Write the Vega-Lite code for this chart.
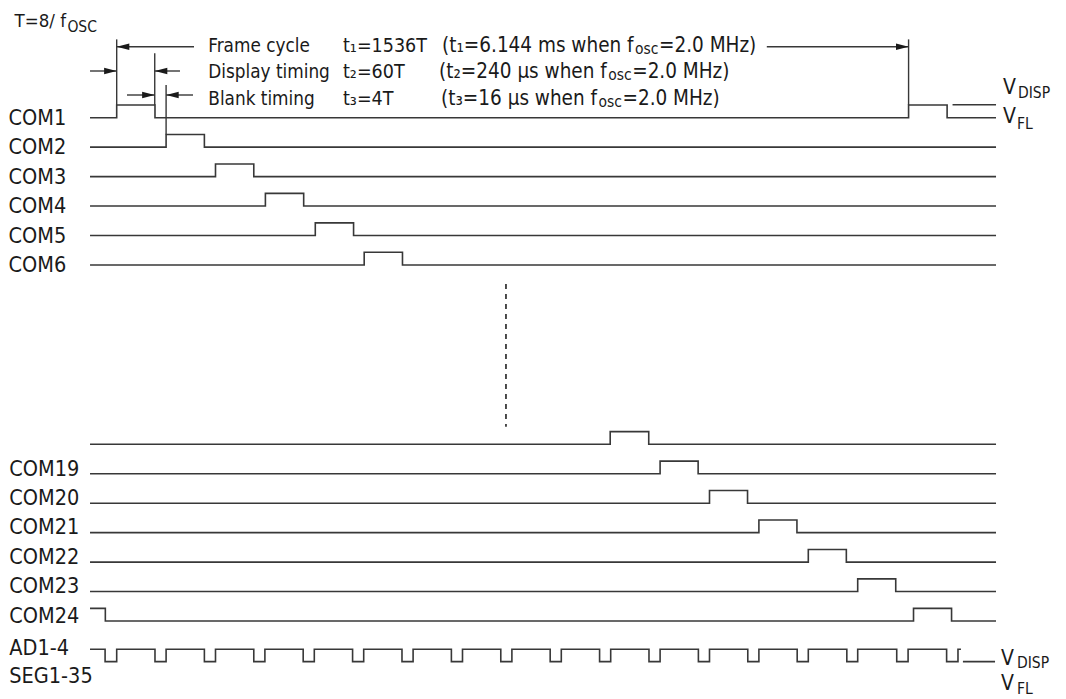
{
  "$schema": "https://vega.github.io/schema/vega-lite/v6.json",
  "width": 1066,
  "height": 699,
  "autosize": {"type": "fit", "contains": "padding"},
  "padding": 0,
  "background": "white",
  "config": {"view": {"stroke": null}, "text": {"font": "DejaVu Sans Condensed, Liberation Sans Narrow, Roboto, sans-serif", "color": "#1a1a1a", "align": "left", "baseline": "alphabetic"}},
  "datasets": {
    "waves": [
      {"s": "COM1", "t": -0.54, "v": 0}, {"s": "COM1", "t": 0, "v": -0.43}, {"s": "COM1", "t": 0.775, "v": 0}, {"s": "COM1", "t": 16.03, "v": -0.43}, {"s": "COM1", "t": 16.81, "v": 0}, {"s": "COM1", "t": 17.8, "v": 0},
      {"s": "COM2", "t": -0.54, "v": 1}, {"s": "COM2", "t": 1.0, "v": 0.57}, {"s": "COM2", "t": 1.775, "v": 1}, {"s": "COM2", "t": 17.8, "v": 1},
      {"s": "COM3", "t": -0.54, "v": 2}, {"s": "COM3", "t": 2.0, "v": 1.57}, {"s": "COM3", "t": 2.775, "v": 2}, {"s": "COM3", "t": 17.8, "v": 2},
      {"s": "COM4", "t": -0.54, "v": 3}, {"s": "COM4", "t": 3.01, "v": 2.57}, {"s": "COM4", "t": 3.785, "v": 3}, {"s": "COM4", "t": 17.8, "v": 3},
      {"s": "COM5", "t": -0.54, "v": 4}, {"s": "COM5", "t": 4.02, "v": 3.57}, {"s": "COM5", "t": 4.795, "v": 4}, {"s": "COM5", "t": 17.8, "v": 4},
      {"s": "COM6", "t": -0.54, "v": 5}, {"s": "COM6", "t": 5.01, "v": 4.57}, {"s": "COM6", "t": 5.785, "v": 5}, {"s": "COM6", "t": 17.8, "v": 5},
      {"s": "COM18", "t": -0.54, "v": 11.09}, {"s": "COM18", "t": 9.99, "v": 10.66}, {"s": "COM18", "t": 10.77, "v": 11.09}, {"s": "COM18", "t": 17.8, "v": 11.09},
      {"s": "COM19", "t": -0.54, "v": 12.09}, {"s": "COM19", "t": 11.0, "v": 11.66}, {"s": "COM19", "t": 11.77, "v": 12.09}, {"s": "COM19", "t": 17.8, "v": 12.09},
      {"s": "COM20", "t": -0.54, "v": 13.09}, {"s": "COM20", "t": 12.0, "v": 12.66}, {"s": "COM20", "t": 12.77, "v": 13.09}, {"s": "COM20", "t": 17.8, "v": 13.09},
      {"s": "COM21", "t": -0.54, "v": 14.09}, {"s": "COM21", "t": 13.0, "v": 13.66}, {"s": "COM21", "t": 13.77, "v": 14.09}, {"s": "COM21", "t": 17.8, "v": 14.09},
      {"s": "COM22", "t": -0.54, "v": 15.09}, {"s": "COM22", "t": 14.0, "v": 14.66}, {"s": "COM22", "t": 14.77, "v": 15.09}, {"s": "COM22", "t": 17.8, "v": 15.09},
      {"s": "COM23", "t": -0.54, "v": 16.09}, {"s": "COM23", "t": 15.0, "v": 15.66}, {"s": "COM23", "t": 15.77, "v": 16.09}, {"s": "COM23", "t": 17.8, "v": 16.09},
      {"s": "COM24", "t": -0.54, "v": 16.66}, {"s": "COM24", "t": -0.23, "v": 17.09}, {"s": "COM24", "t": 16.13, "v": 16.66}, {"s": "COM24", "t": 16.9, "v": 17.09}, {"s": "COM24", "t": 17.8, "v": 17.09},
      {"s": "AD", "t": -0.54, "v": 18.05}, {"s": "AD", "t": -0.235, "v": 18.47},
      {"s": "AD", "t": 0, "v": 18.05}, {"s": "AD", "t": 0.775, "v": 18.47},
      {"s": "AD", "t": 1, "v": 18.05}, {"s": "AD", "t": 1.775, "v": 18.47},
      {"s": "AD", "t": 2, "v": 18.05}, {"s": "AD", "t": 2.775, "v": 18.47},
      {"s": "AD", "t": 3, "v": 18.05}, {"s": "AD", "t": 3.775, "v": 18.47},
      {"s": "AD", "t": 4, "v": 18.05}, {"s": "AD", "t": 4.775, "v": 18.47},
      {"s": "AD", "t": 5, "v": 18.05}, {"s": "AD", "t": 5.775, "v": 18.47},
      {"s": "AD", "t": 6, "v": 18.05}, {"s": "AD", "t": 6.775, "v": 18.47},
      {"s": "AD", "t": 7, "v": 18.05}, {"s": "AD", "t": 7.775, "v": 18.47},
      {"s": "AD", "t": 8, "v": 18.05}, {"s": "AD", "t": 8.775, "v": 18.47},
      {"s": "AD", "t": 9, "v": 18.05}, {"s": "AD", "t": 9.775, "v": 18.47},
      {"s": "AD", "t": 10, "v": 18.05}, {"s": "AD", "t": 10.775, "v": 18.47},
      {"s": "AD", "t": 11, "v": 18.05}, {"s": "AD", "t": 11.775, "v": 18.47},
      {"s": "AD", "t": 12, "v": 18.05}, {"s": "AD", "t": 12.775, "v": 18.47},
      {"s": "AD", "t": 13, "v": 18.05}, {"s": "AD", "t": 13.775, "v": 18.47},
      {"s": "AD", "t": 14, "v": 18.05}, {"s": "AD", "t": 14.78, "v": 18.47},
      {"s": "AD", "t": 15, "v": 18.05}, {"s": "AD", "t": 15.79, "v": 18.47},
      {"s": "AD", "t": 16.02, "v": 18.05}, {"s": "AD", "t": 16.8, "v": 18.47},
      {"s": "AD", "t": 17.03, "v": 18.05}, {"s": "AD", "t": 17.09, "v": 18.05},
      {"s": "refTop", "t": 16.92, "v": -0.44}, {"s": "refTop", "t": 17.8, "v": -0.44},
      {"s": "refBot", "t": 17.13, "v": 18.47}, {"s": "refBot", "t": 17.78, "v": 18.47}
    ],
    "rules": [
      {"x": 0, "x2": 0, "y": -2.66, "y2": -0.43},
      {"x": 0.77, "x2": 0.77, "y": -2.19, "y2": -0.43},
      {"x": 1.0, "x2": 1.0, "y": -1.11, "y2": 0.57},
      {"x": 16.03, "x2": 16.03, "y": -2.66, "y2": -0.43},
      {"x": 0, "x2": 1.565, "y": -2.411, "y2": -2.411},
      {"x": 13.16, "x2": 16.03, "y": -2.411, "y2": -2.411},
      {"x": -0.54, "x2": 0, "y": -1.586, "y2": -1.586},
      {"x": 1.281, "x2": 0.77, "y": -1.586, "y2": -1.586},
      {"x": 0.2085, "x2": 0.77, "y": -0.771, "y2": -0.771},
      {"x": 1.545, "x2": 1.0, "y": -0.771, "y2": -0.771}
    ],
    "dashed": [{"x": 7.88, "y": 5.647, "y2": 10.49}],
    "heads": [
      {"x": 0, "y": -2.411, "d": "left"},
      {"x": 16.03, "y": -2.411, "d": "right"},
      {"x": 0, "y": -1.586, "d": "right"},
      {"x": 0.77, "y": -1.586, "d": "left"},
      {"x": 0.77, "y": -0.771, "d": "right"},
      {"x": 1.0, "y": -0.771, "d": "left"}
    ],
    "txtLeft": [
      {"x": 1.854, "y": -2.241, "s": "Frame cycle"},
      {"x": 1.854, "y": -1.338, "s": "Display timing"},
      {"x": 1.854, "y": -0.431, "s": "Blank timing"}
    ],
    "txtCol": [
      {"x": 4.581, "y": -2.241, "s": "t₁=1536T"},
      {"x": 4.581, "y": -1.338, "s": "t₂=60T"},
      {"x": 4.581, "y": -0.431, "s": "t₃=4T"}
    ],
    "txtMain": [
      {"x": 10.978, "y": -2.241, "s": "=2.0 MHz)"},
      {"x": 10.435, "y": -1.338, "s": "=2.0 MHz)"},
      {"x": 10.238, "y": -0.431, "s": "=2.0 MHz)"}
    ],
    "txtMainR": [
      {"x": 10.462, "y": -2.241, "s": "(t₁=6.144 ms when f"},
      {"x": 9.920, "y": -1.338, "s": "(t₂=240 μs when f"},
      {"x": 9.723, "y": -0.431, "s": "(t₃=16 μs when f"}
    ],
    "txtSub": [
      {"x": 10.492, "y": -2.18, "s": "osc"},
      {"x": 9.950, "y": -1.277, "s": "osc"},
      {"x": 9.753, "y": -0.37, "s": "osc"}
    ],
    "txtSubCap": [
      {"x": -0.998, "y": -2.92, "s": "OSC"},
      {"x": 18.245, "y": -0.659, "s": "DISP"},
      {"x": 18.225, "y": 0.394, "s": "FL"},
      {"x": 18.225, "y": 18.676, "s": "DISP"},
      {"x": 18.225, "y": 19.569, "s": "FL"}
    ],
    "txtT": [{"x": -1.026, "y": -3.07, "s": "T=8/ f"}],
    "txtV": [
      {"x": 17.94, "y": -0.795, "s": "V"},
      {"x": 17.94, "y": 0.17, "s": "V"},
      {"x": 17.9, "y": 18.584, "s": "V"},
      {"x": 17.9, "y": 19.433, "s": "V"}
    ],
    "txtLab": [
      {"x": -2.19, "y": 0.248, "s": "COM1"},
      {"x": -2.19, "y": 1.248, "s": "COM2"},
      {"x": -2.19, "y": 2.248, "s": "COM3"},
      {"x": -2.19, "y": 3.248, "s": "COM4"},
      {"x": -2.19, "y": 4.248, "s": "COM5"},
      {"x": -2.19, "y": 5.248, "s": "COM6"},
      {"x": -2.174, "y": 12.156, "s": "COM19"},
      {"x": -2.174, "y": 13.153, "s": "COM20"},
      {"x": -2.174, "y": 14.152, "s": "COM21"},
      {"x": -2.174, "y": 15.15, "s": "COM22"},
      {"x": -2.174, "y": 16.149, "s": "COM23"},
      {"x": -2.174, "y": 17.148, "s": "COM24"},
      {"x": -2.174, "y": 18.245, "s": "AD1-4"},
      {"x": -2.174, "y": 19.206, "s": "SEG1-35"}
    ]
  },
  "layer": [
    {
      "data": {"name": "waves"},
      "mark": {"type": "line", "interpolate": "step-after", "color": "#383838", "strokeWidth": 1.6},
      "encoding": {
        "x": {"field": "t", "type": "quantitative", "scale": {"domain": [-2.3623, 19.2166], "nice": false, "zero": false}, "axis": null},
        "y": {"field": "v", "type": "quantitative", "scale": {"domain": [-3.997, 19.739], "nice": false, "zero": false, "reverse": true}, "axis": null},
        "detail": {"field": "s", "type": "nominal"}
      }
    },
    {
      "data": {"name": "rules"},
      "mark": {"type": "rule", "color": "#383838", "strokeWidth": 1.4},
      "encoding": {
        "x": {"field": "x", "type": "quantitative"},
        "x2": {"field": "x2"},
        "y": {"field": "y", "type": "quantitative"},
        "y2": {"field": "y2"}
      }
    },
    {
      "data": {"name": "dashed"},
      "mark": {"type": "rule", "color": "#222222", "strokeWidth": 1.6, "strokeDash": [5, 5]},
      "encoding": {
        "x": {"field": "x", "type": "quantitative"},
        "y": {"field": "y", "type": "quantitative"},
        "y2": {"field": "y2"}
      }
    },
    {
      "data": {"name": "heads"},
      "mark": {"type": "point", "filled": true, "size": 36, "color": "#1a1a1a", "opacity": 1},
      "encoding": {
        "x": {"field": "x", "type": "quantitative"},
        "y": {"field": "y", "type": "quantitative"},
        "shape": {"field": "d", "type": "nominal", "scale": {"domain": ["left", "right"], "range": ["M0,0L4.2,-1.1L4.2,1.1Z", "M0,0L-4.2,-1.1L-4.2,1.1Z"]}, "legend": null}
      }
    },
    {
      "data": {"name": "txtLeft"},
      "mark": {"type": "text", "fontSize": 18.8},
      "encoding": {"x": {"field": "x", "type": "quantitative"}, "y": {"field": "y", "type": "quantitative"}, "text": {"field": "s"}}
    },
    {
      "data": {"name": "txtCol"},
      "mark": {"type": "text", "fontSize": 19.5},
      "encoding": {"x": {"field": "x", "type": "quantitative"}, "y": {"field": "y", "type": "quantitative"}, "text": {"field": "s"}}
    },
    {
      "data": {"name": "txtMain"},
      "mark": {"type": "text", "fontSize": 20.5},
      "encoding": {"x": {"field": "x", "type": "quantitative"}, "y": {"field": "y", "type": "quantitative"}, "text": {"field": "s"}}
    },
    {
      "data": {"name": "txtMainR"},
      "mark": {"type": "text", "fontSize": 20.5, "align": "right"},
      "encoding": {"x": {"field": "x", "type": "quantitative"}, "y": {"field": "y", "type": "quantitative"}, "text": {"field": "s"}}
    },
    {
      "data": {"name": "txtSub"},
      "mark": {"type": "text", "fontSize": 15.5},
      "encoding": {"x": {"field": "x", "type": "quantitative"}, "y": {"field": "y", "type": "quantitative"}, "text": {"field": "s"}}
    },
    {
      "data": {"name": "txtSubCap"},
      "mark": {"type": "text", "fontSize": 15.5},
      "encoding": {"x": {"field": "x", "type": "quantitative"}, "y": {"field": "y", "type": "quantitative"}, "text": {"field": "s"}}
    },
    {
      "data": {"name": "txtT"},
      "mark": {"type": "text", "fontSize": 18.5, "align": "right"},
      "encoding": {"x": {"field": "x", "type": "quantitative"}, "y": {"field": "y", "type": "quantitative"}, "text": {"field": "s"}}
    },
    {
      "data": {"name": "txtV"},
      "mark": {"type": "text", "fontSize": 21},
      "encoding": {"x": {"field": "x", "type": "quantitative"}, "y": {"field": "y", "type": "quantitative"}, "text": {"field": "s"}}
    },
    {
      "data": {"name": "txtLab"},
      "mark": {"type": "text", "fontSize": 21.5},
      "encoding": {"x": {"field": "x", "type": "quantitative"}, "y": {"field": "y", "type": "quantitative"}, "text": {"field": "s"}}
    }
  ]
}
